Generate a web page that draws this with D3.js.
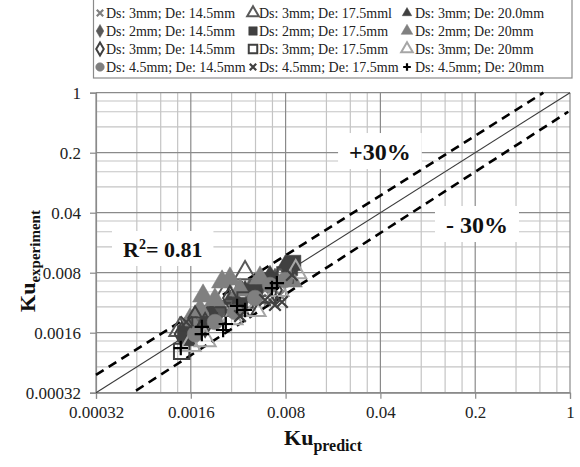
<!DOCTYPE html>
<html><head><meta charset="utf-8">
<script src="https://cdn.jsdelivr.net/npm/d3@7"></script>
<style>body{margin:0;background:#fff}svg{display:block}</style>
</head><body><svg id="c" width="580" height="467"></svg>
<script>
// ---- data ----
const majorTicks = [0.00032, 0.0016, 0.008, 0.04, 0.2, 1];
const tickLabels = ["0.00032", "0.0016", "0.008", "0.04", "0.2", "1"];
const minorMult = [2, 3, 4];
const domain = [0.00032, 1];

const s1x = [0.00187,0.00241,0.00369,0.00437,0.00564,0.00727,0.00614,0.00518];
const s1y = [0.00225,0.00225,0.00336,0.00385,0.00503,0.00440,0.00385,0.00575];
const s2x = [0.00158,0.00204,0.00263,0.00339,0.00437,0.00518,0.00668,0.00862];
const s2y = [0.00197,0.00225,0.00294,0.00385,0.00503,0.00575,0.00658,0.0086];
const s3x = [0.00172,0.00222,0.00311,0.00402,0.00518,0.00614,0.00792];
const s3y = [0.00197,0.00294,0.00385,0.00503,0.00658,0.00752,0.00983];
const s4x = [0.00402,0.00133,0.00286,0.00518,0.00339,0.00727];
const s4y = [0.0079,0.00172,0.0044,0.00503,0.00294,0.00658];
const s5x = [0.00145,0.00153,0.0091,0.00862,0.00614,0.00222,0.00369,0.00476];
const s5y = [0.00158,0.00138,0.0104,0.00907,0.00658,0.00225,0.00336,0.00477];
const s6x = [0.00197,0.00272,0.00311,0.00241,0.00369,0.00518,0.0089,0.00187,0.00158];
const s6y = [0.00428,0.00624,0.00676,0.00385,0.00503,0.00694,0.0064,0.00294,0.00225];
const s7x = [0.00137,0.00172,0.00204,0.00311,0.00437,0.00668];
const s7y = [0.00154,0.00237,0.00197,0.00406,0.00336,0.00503];
const s8x = [0.00137,0.00187,0.00254,0.00402,0.00594,0.00792];
const s8y = [0.00097,0.00197,0.00257,0.00385,0.0044,0.00752];
const s9x = [0.00204,0.00158,0.00322,0.00476,0.00703,0.0095];
const s9y = [0.00131,0.00115,0.00237,0.00294,0.00503,0.0081];
const s10x = [0.00172,0.00241,0.00339,0.00476,0.00614,0.00792];
const s10y = [0.00154,0.00213,0.00279,0.00406,0.00575,0.00658];
const s11x = [0.00148,0.00369,0.00564,0.00752,0.00668,0.0089];
const s11y = [0.00213,0.0025,0.00385,0.00365,0.00336,0.00752];
const s12x = [0.00135,0.00193,0.00193,0.00277,0.0029,0.00351,0.00402,0.00635,0.0069];
const s12y = [0.00106,0.00187,0.00154,0.00172,0.00202,0.00328,0.00294,0.0053,0.00605];

const seriesNames = [
  "Ds: 3mm; De: 14.5mm", "Ds: 2mm; De: 14.5mm", "Ds: 3mm; De: 20.0mm",
  "Ds: 3mm; De: 17.5mml", "Ds: 2mm; De: 17.5mm", "Ds: 2mm; De: 20mm",
  "Ds: 3mm; De: 14.5mm", "Ds: 3mm; De: 17.5mm", "Ds: 3mm; De: 20mm",
  "Ds: 4.5mm; De: 14.5mm", "Ds: 4.5mm; De: 17.5mm", "Ds: 4.5mm; De: 20mm"];
const seriesX = [s1x,s2x,s3x,s4x,s5x,s6x,s7x,s8x,s9x,s10x,s11x,s12x];
const seriesY = [s1y,s2y,s3y,s4y,s5y,s6y,s7y,s8y,s9y,s10y,s11y,s12y];

// reference lines (data coordinates)
const lineOneToOne = [[0.00032,0.00032],[1,1]];
const linePlus = [[0.00032,0.000515],[0.636,1]];
const lineMinus = [[0.000631,0.000338],[0.971,0.600]];
const labelR2 = {x:0.000506, y:0.0122, t:"R", sup:"2", rest:"= 0.81"};
const labelP = {x:0.0235, y:0.1643, t:"+30%"};
const labelM = {x:0.1218, y:0.0232, t:"- 30%"};

// ---- styles ----
const FONT = "Liberation Serif, Times New Roman, serif";
const styles = [
  {shape:"x", color:"#7f7f7f", fill:false},
  {shape:"diamond", color:"#595959", fill:true},
  {shape:"triangle", color:"#404040", fill:true, small:true},
  {shape:"triangle", color:"#595959", fill:false},
  {shape:"square", color:"#404040", fill:true},
  {shape:"triangle", color:"#808080", fill:true},
  {shape:"diamond", color:"#404040", fill:false},
  {shape:"square", color:"#404040", fill:false},
  {shape:"triangle", color:"#a6a6a6", fill:false},
  {shape:"circle", color:"#7f7f7f", fill:true},
  {shape:"x", color:"#404040", fill:false},
  {shape:"plus", color:"#000000", fill:false}
];
const legendOrder = [0,3,2,1,4,5,6,7,8,9,10,11];

const svg = d3.select("#c");
const x = d3.scaleLog().base(5).domain(domain).range([96, 570]);
const y = d3.scaleLog().base(5).domain(domain).range([392.7, 92.7]);

const minors = [];
majorTicks.slice(0,-1).forEach(m => minorMult.forEach(k => minors.push(m*k)));

const g = svg.append("g");
g.selectAll(".mvx").data(minors).enter().append("line")
  .attr("x1", d=>x(d)).attr("x2", d=>x(d)).attr("y1", y(domain[0])).attr("y2", y(domain[1]))
  .attr("stroke", "#c4c4c4").attr("stroke-width", 1.2);
g.selectAll(".mhy").data(minors).enter().append("line")
  .attr("y1", d=>y(d)).attr("y2", d=>y(d)).attr("x1", x(domain[0])).attr("x2", x(domain[1]))
  .attr("stroke", "#c4c4c4").attr("stroke-width", 1.2);
g.selectAll(".Mvx").data(majorTicks).enter().append("line")
  .attr("x1", d=>x(d)).attr("x2", d=>x(d)).attr("y1", y(domain[0])).attr("y2", y(domain[1]))
  .attr("stroke", "#8a8a8a").attr("stroke-width", 1.2);
g.selectAll(".Mhy").data(majorTicks).enter().append("line")
  .attr("y1", d=>y(d)).attr("y2", d=>y(d)).attr("x1", x(domain[0])).attr("x2", x(domain[1]))
  .attr("stroke", "#8a8a8a").attr("stroke-width", 1.2);

// axes
const xAxis = d3.axisBottom(x).tickValues(majorTicks).tickFormat((d,i)=>tickLabels[i]).tickSize(6).tickPadding(7);
const yAxis = d3.axisLeft(y).tickValues(majorTicks).tickFormat((d,i)=>tickLabels[i]).tickSize(6).tickPadding(9);
const gx = svg.append("g").attr("transform", `translate(0,${y(domain[0])})`).call(xAxis);
const gy = svg.append("g").attr("transform", `translate(${x(domain[0])},0)`).call(yAxis);
[gx, gy].forEach(a => {
  a.attr("font-family", FONT);
  a.select(".domain").attr("stroke", "#8a8a8a").attr("stroke-width", 1.2);
  a.selectAll(".tick line").attr("stroke", "#8a8a8a").attr("stroke-width", 1.2);
  a.selectAll("text").attr("font-family", FONT).attr("font-size", 17).attr("fill", "#222");
});

// reference lines
const lineGen = d3.line().x(d=>x(d[0])).y(d=>y(d[1]));
svg.append("path").attr("d", lineGen(lineOneToOne)).attr("stroke", "#3a3a3a").attr("stroke-width", 1.1).attr("fill", "none");
[linePlus, lineMinus].forEach(l => svg.append("path").attr("d", lineGen(l))
  .attr("stroke", "#000").attr("stroke-width", 2.6).attr("stroke-dasharray", "9,6").attr("fill", "none"));

// label boxes
function boxedLabel(lbl, size, build) {
  const gg = svg.append("g");
  const rect = gg.append("rect").attr("fill", "#fff");
  const t = gg.append("text").attr("x", x(lbl.x)).attr("y", y(lbl.y)).attr("font-family", FONT)
    .attr("font-size", size).attr("font-weight", "bold").attr("fill", "#111");
  build(t);
  const b = t.node().getBBox();
  rect.attr("x", b.x - 11).attr("y", b.y - 6).attr("width", b.width + 22).attr("height", b.height + 10);
}
boxedLabel(labelR2, 22, t => {
  t.append("tspan").text(labelR2.t);
  t.append("tspan").attr("font-size", 14).attr("dy", -8).text(labelR2.sup);
  t.append("tspan").attr("dy", 8).text(labelR2.rest);
});
boxedLabel(labelP, 24, t => t.text(labelP.t));
boxedLabel(labelM, 24, t => t.text(labelM.t));

// markers
function markerPath(shape, s) {
  if (shape === "x") return `M${-s},${-s}L${s},${s}M${-s},${s}L${s},${-s}`;
  if (shape === "plus") return `M${-s*1.2},0L${s*1.2},0M0,${-s*1.2}L0,${s*1.2}`;
  const map = {triangle:d3.symbolTriangle, diamond:d3.symbolDiamond, square:d3.symbolSquare, circle:d3.symbolCircle};
  const area = {triangle:2.6, diamond:2.2, square:3.2, circle:2.6}[shape];
  return d3.symbol().type(map[shape]).size(area*s*s*2.2)();
}
function drawMarker(sel, st, s) {
  const line = st.shape === "x" || st.shape === "plus";
  sel.append("path").attr("d", markerPath(st.shape, s))
    .attr("fill", line ? "none" : (st.fill ? st.color : "none"))
    .attr("stroke", st.color)
    .attr("stroke-width", line ? 2.2 : (st.fill ? 0.5 : 2));
}
seriesX.forEach((xs, i) => {
  const st = styles[i];
  const s = st.small ? 4.6 : (st.shape === "plus" ? 6 : 5.8);
  xs.forEach((xv, j) => {
    const m = svg.append("g").attr("transform", `translate(${x(xv)},${y(seriesY[i][j])})`);
    drawMarker(m, st, s);
  });
});

// legend
const lg = svg.append("g");
lg.append("rect").attr("x", 93.5).attr("y", -1).attr("width", 478.5).attr("height", 79)
  .attr("fill", "#fff").attr("stroke", "#8a8a8a").attr("stroke-width", 1.2);
const colX = [100, 253, 407];
legendOrder.forEach((si, k) => {
  const r = Math.floor(k/3), c = k % 3;
  const cy = 13 + r*18;
  const st = styles[si];
  const m = lg.append("g").attr("transform", `translate(${colX[c]},${cy})`);
  drawMarker(m, st, st.small ? 2.6 : 3.2);
  lg.append("text").attr("x", colX[c] + (c===2 ? 8 : 6)).attr("y", cy + 5)
    .attr("font-family", FONT).attr("font-size", 14).attr("fill", "#222").text(seriesNames[si]);
});

// axis titles
const xt = svg.append("text").attr("x", 323).attr("y", 445).attr("text-anchor", "middle")
  .attr("font-family", FONT).attr("font-weight", "bold").attr("fill", "#111");
xt.append("tspan").attr("font-size", 22).text("Ku");
xt.append("tspan").attr("font-size", 16).attr("dy", 6).text("predict");
const yt = svg.append("text").attr("transform", "translate(35,261) rotate(-90)").attr("text-anchor", "middle")
  .attr("font-family", FONT).attr("font-weight", "bold").attr("fill", "#111");
yt.append("tspan").attr("font-size", 22).text("Ku");
yt.append("tspan").attr("font-size", 15).attr("dy", 5).text("experiment");
</script></body></html>
